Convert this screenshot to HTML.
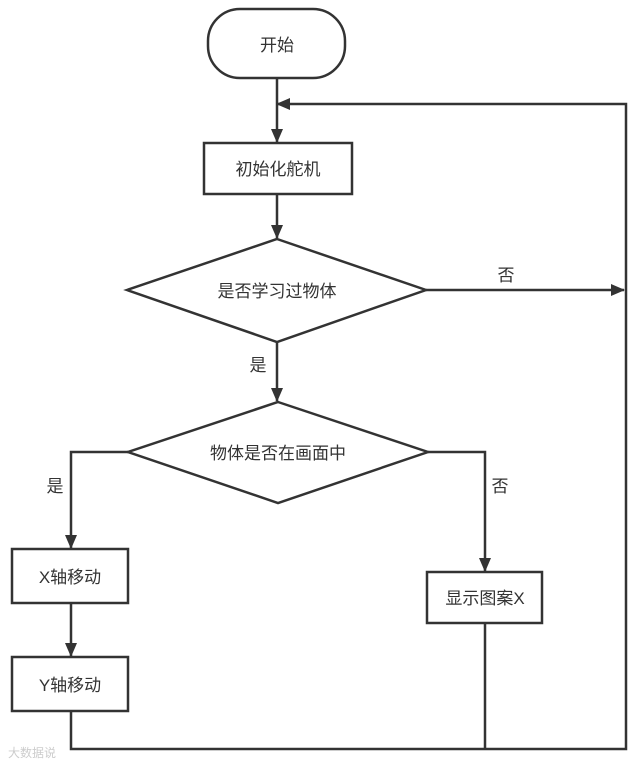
<!DOCTYPE html>
<html><head><meta charset="utf-8"><style>
html,body{margin:0;padding:0;background:#fff;}
svg text{font-family:"Liberation Sans","Noto Sans CJK SC",sans-serif;font-size:17px;fill:#333;}
</style></head><body>
<svg width="644" height="766" viewBox="0 0 644 766" xmlns="http://www.w3.org/2000/svg">
<defs>
<marker id="b" markerWidth="14" markerHeight="12" refX="13" refY="6" orient="auto" markerUnits="userSpaceOnUse"><path d="M0,0 L14,6 L0,12 z" fill="#333"/></marker></defs>
<g stroke="#333" stroke-width="2.5" fill="none">
<rect x="208" y="9" width="137" height="69" rx="32" fill="#fff"/>
<line x1="277" y1="78" x2="277" y2="142" marker-end="url(#b)"/>
<polyline points="626,290 626,104 277,104" marker-end="url(#b)"/>
<rect x="204" y="143" width="148" height="51" fill="#fff"/>
<line x1="277" y1="194" x2="277" y2="238" marker-end="url(#b)"/>
<polygon points="277,239 426,290 277,342 127,290" fill="#fff"/>
<line x1="426" y1="290" x2="624" y2="290" marker-end="url(#b)"/>
<line x1="277" y1="342" x2="277" y2="401" marker-end="url(#b)"/>
<polygon points="278,402 428,452 278,503 128,452" fill="#fff"/>
<polyline points="128,452 71,452 71,548" marker-end="url(#b)"/>
<polyline points="428,452 485,452 485,571" marker-end="url(#b)"/>
<rect x="12" y="549" width="116" height="54" fill="#fff"/>
<line x1="71" y1="603" x2="71" y2="656" marker-end="url(#b)"/>
<rect x="12" y="657" width="116" height="54" fill="#fff"/>
<rect x="427" y="572" width="115" height="51" fill="#fff"/>
<polyline points="71,711 71,749 626,749 626,290"/>
<line x1="485" y1="623" x2="485" y2="749"/>
</g>
<text x="277" y="51" text-anchor="middle">开始</text>
<text x="278" y="175" text-anchor="middle">初始化舵机</text>
<text x="277" y="297" text-anchor="middle">是否学习过物体</text>
<text x="278" y="459" text-anchor="middle">物体是否在画面中</text>
<text x="70" y="583" text-anchor="middle">X轴移动</text>
<text x="70" y="691" text-anchor="middle">Y轴移动</text>
<text x="485" y="604" text-anchor="middle">显示图案X</text>
<text x="506" y="281" text-anchor="middle">否</text>
<text x="258" y="371" text-anchor="middle">是</text>
<text x="55" y="492" text-anchor="middle">是</text>
<text x="500" y="492" text-anchor="middle">否</text>
<text x="8" y="757" style="font-size:12px;fill:#ccc">大数据说</text>
</svg>
</body></html>
